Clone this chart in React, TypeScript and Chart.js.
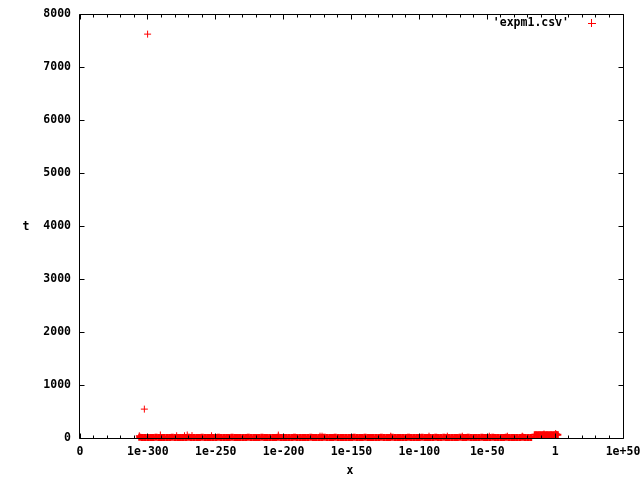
import React, { useEffect, useRef } from "react";
import { Chart, registerables } from "chart.js";

Chart.register(...registerables);

// x axis is logarithmic: positions are log10(x)
const xTickExponents = [-350, -300, -250, -200, -150, -100, -50, 0, 50];
const xTickLabels = ["0", "1e-300", "1e-250", "1e-200", "1e-150", "1e-100", "1e-50", "1", "1e+50"];
const yTickValues = [0, 1000, 2000, 3000, 4000, 5000, 6000, 7000, 8000];

const seriesLabel = "'expm1.csv'";

// isolated points
const outlierExp = [-300.2, -302.6];
const outlierT = [7620, 545];

// dense low band
const lowerBandExp = [
  -306, -304, -302, -300, -298, -296, -294, -292, -290, -288,
  -286, -284, -282, -280, -278, -276, -274, -272, -270, -268,
  -266, -264, -262, -260, -258, -256, -254, -252, -250, -248,
  -246, -244, -242, -240, -238, -236, -234, -232, -230, -228,
  -226, -224, -222, -220, -218, -216, -214, -212, -210, -208,
  -206, -204, -202, -200, -198, -196, -194, -192, -190, -188,
  -186, -184, -182, -180, -178, -176, -174, -172, -170, -168,
  -166, -164, -162, -160, -158, -156, -154, -152, -150, -148,
  -146, -144, -142, -140, -138, -136, -134, -132, -130, -128,
  -126, -124, -122, -120, -118, -116, -114, -112, -110, -108,
  -106, -104, -102, -100, -98, -96, -94, -92, -90, -88,
  -86, -84, -82, -80, -78, -76, -74, -72, -70, -68,
  -66, -64, -62, -60, -58, -56, -54, -52, -50, -48,
  -46, -44, -42, -40, -38, -36, -34, -32, -30, -28,
  -26, -24, -22, -20, -18,
];
const lowerBandT = [
  12, 10, 9, 11, 10, 8, 12, 10, 11, 9,
  10, 11, 12, 9, 10, 8, 11, 10, 12, 9,
  11, 10, 8, 12, 9, 10, 11, 10, 9, 12,
  10, 9, 11, 10, 12, 8, 10, 11, 9, 10,
  12, 10, 9, 11, 10, 12, 8, 10, 11, 9,
  10, 12, 11, 9, 10, 8, 11, 12, 10, 9,
  11, 10, 9, 12, 10, 11, 8, 10, 12, 9,
  10, 11, 12, 10, 9, 8, 11, 10, 9, 12,
  9, 10, 11, 12, 10, 9, 11, 8, 10, 12,
  11, 9, 10, 12, 10, 11, 9, 10, 8, 12,
  10, 11, 9, 10, 12, 8, 11, 10, 9, 12,
  11, 10, 12, 9, 10, 11, 8, 10, 12, 9,
  10, 12, 9, 11, 10, 8, 12, 10, 11, 9,
  12, 10, 11, 9, 10, 12, 9, 11, 10, 8,
  10, 12, 9, 11, 10,
];

// scattered points a little above the band
const spikeExp = [-306.3, -290.8, -278.8, -273, -271, -267.5, -253.1, -203.9, -173.2, -171.7, -121.1, -92.9, -79.4, -68.4, -48.5, -35.2, -24.2, -8.2, 0.4];
const spikeT = [42, 57, 42, 42, 57, 45, 42, 55, 34, 34, 34, 34, 34, 34, 34, 34, 34, 75, 85];

// upper band near x ~ 1
const upperBandExp = [-15, -14, -13, -12, -11, -10, -9, -8, -7, -6, -5, -4, -3, -2, -1, 0, 1, 2];
const upperBandT = [60, 61, 59, 60, 62, 60, 59, 61, 60, 61, 59, 60, 62, 60, 61, 63, 64, 60];

const RED = "#ff0000";
const FONT_FAMILY = '"DejaVu Sans Mono", monospace';
const FONT_SIZE = 11.5;

const toPoints = (xs: number[], ys: number[]) => xs.map((x, i) => ({ x, y: ys[i] }));

const framePlugin = {
  id: "frame",
  afterDatasetsDraw(chart: any) {
    const { ctx, chartArea: a } = chart;
    const xs = chart.scales.x;
    const ys = chart.scales.y;
    ctx.save();
    ctx.strokeStyle = "#000";
    ctx.lineWidth = 1;
    const L = a.left - 0.5;
    const R = a.right + 0.5;
    const T = a.top + 0.5;
    const B = a.bottom + 0.5;
    ctx.beginPath();
    ctx.moveTo(L, T);
    ctx.lineTo(R, T);
    ctx.lineTo(R, B);
    ctx.lineTo(L, B);
    ctx.closePath();
    // x ticks (major every 50 decades, minor every 10)
    const xMin = xTickExponents[0];
    const xMax = xTickExponents[xTickExponents.length - 1];
    for (let e = xMin; e <= xMax; e += 10) {
      const major = xTickExponents.includes(e);
      const len = major ? 5 : 3;
      const px = Math.floor(xs.getPixelForValue(e)) + 0.5;
      ctx.moveTo(px, B);
      ctx.lineTo(px, B - len);
      ctx.moveTo(px, T);
      ctx.lineTo(px, T + len);
    }
    for (const v of yTickValues) {
      const py = Math.floor(ys.getPixelForValue(v)) + 0.5;
      ctx.moveTo(L, py);
      ctx.lineTo(L + 5, py);
      ctx.moveTo(R, py);
      ctx.lineTo(R - 5, py);
    }
    ctx.stroke();
    ctx.restore();

    // axis titles and key text
    ctx.save();
    ctx.fillStyle = "#000";
    ctx.font = `bold ${FONT_SIZE}px ${FONT_FAMILY}`;
    ctx.textBaseline = "middle";
    ctx.textAlign = "center";
    ctx.fillText("t", 26, 227);
    ctx.fillText("x", 350, 471);
    ctx.textAlign = "right";
    ctx.fillText(seriesLabel, 569, 23);
    ctx.restore();

    // key sample (a red "+")
    ctx.save();
    ctx.fillStyle = RED;
    ctx.fillRect(588, 23, 8, 1);
    ctx.fillRect(591, 19, 1, 8);
    ctx.restore();
  },
};

export default function App() {
  const ref = useRef<HTMLCanvasElement>(null);
  useEffect(() => {
    document.body.style.margin = "0";
    const font = { family: FONT_FAMILY, size: FONT_SIZE, weight: "bold" as const };
    const pointStyle = {
      pointStyle: "cross" as const,
      pointRadius: 3.5,
      pointBorderColor: RED,
      pointBackgroundColor: RED,
      showLine: false,
      clip: false as const,
    };
    const chart = new Chart(ref.current!, {
      type: "scatter",
      data: {
        datasets: [
          { label: seriesLabel, data: toPoints(lowerBandExp, lowerBandT), ...pointStyle, pointBorderWidth: 3 },
          { label: seriesLabel, data: toPoints(upperBandExp, upperBandT), ...pointStyle, pointBorderWidth: 2 },
          { label: seriesLabel, data: toPoints(spikeExp, spikeT), ...pointStyle, pointBorderWidth: 1 },
          { label: seriesLabel, data: toPoints(outlierExp, outlierT), ...pointStyle, pointBorderWidth: 1 },
        ],
      },
      options: {
        responsive: false,
        animation: false,
        devicePixelRatio: 1,
        layout: { padding: { top: 14, right: 17, left: 0, bottom: 0 } },
        plugins: { legend: { display: false }, tooltip: { enabled: false } },
        scales: {
          x: {
            type: "linear",
            position: "bottom",
            min: xTickExponents[0],
            max: xTickExponents[xTickExponents.length - 1],
            grid: { display: false, drawTicks: false },
            border: { display: false },
            afterBuildTicks: (s: any) => {
              s.ticks = xTickExponents.map((v) => ({ value: v }));
            },
            afterFit: (s: any) => {
              s.height = 42;
              s.paddingLeft = 0;
              s.paddingRight = 0;
            },
            ticks: {
              autoSkip: false,
              maxRotation: 0,
              minRotation: 0,
              padding: 7,
              color: "#000",
              font,
              callback: (_v: any, i: number) => xTickLabels[i],
            },
          },
          y: {
            type: "linear",
            position: "left",
            min: yTickValues[0],
            max: yTickValues[yTickValues.length - 1],
            grid: { display: false, drawTicks: false },
            border: { display: false },
            afterBuildTicks: (s: any) => {
              s.ticks = yTickValues.map((v) => ({ value: v }));
            },
            afterFit: (s: any) => {
              s.width = 80;
              s.paddingTop = 0;
              s.paddingBottom = 0;
            },
            ticks: { padding: 9, color: "#000", font, callback: (v: any) => String(v) },
          },
        },
      },
      plugins: [framePlugin],
    });
    return () => chart.destroy();
  }, []);
  return <canvas ref={ref} width={640} height={480} style={{ display: "block", width: 640, height: 480 }} />;
}
